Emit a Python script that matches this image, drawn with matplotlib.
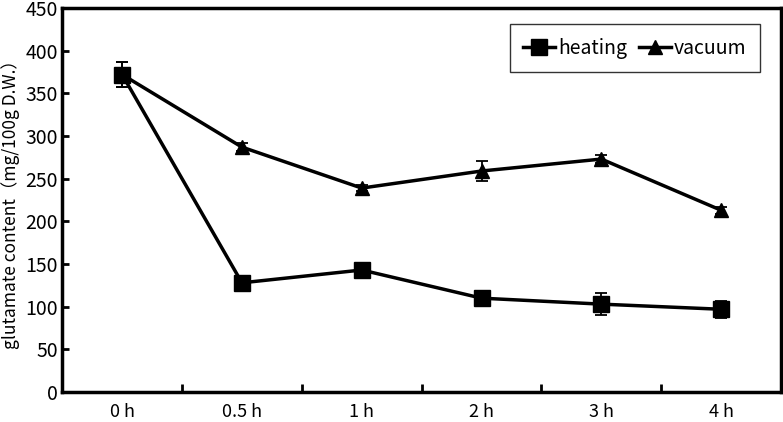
import matplotlib.pyplot as plt
from matplotlib.lines import Line2D

plt.rcParams['font.family'] = ['Noto Sans CJK JP', 'DejaVu Sans']

# data
times = ['0 h', '0.5 h', '1 h', '2 h', '3 h', '4 h']
heating = [372, 128, 143, 110, 103, 97]
heating_err = [15, 3, 3, 3, 13, 10]
vacuum = [372, 287, 239, 259, 273, 213]
vacuum_err = [15, 5, 4, 12, 5, 4]

fig = plt.figure(figsize=(7.83, 4.22), dpi=100)
ax = fig.add_axes([0.0795, 0.071, 0.918, 0.91])

x = list(range(len(times)))
ax.errorbar(x, heating, yerr=heating_err, color='black', lw=2.5, marker='s',
            markersize=11, capsize=4, elinewidth=1.3, capthick=1.3)
ax.errorbar(x, vacuum, yerr=vacuum_err, color='black', lw=2.5, marker='^',
            markersize=10, capsize=4, elinewidth=1.3, capthick=1.3)

ax.set_xlim(-0.5, len(times) - 0.5)
ax.set_ylim(0, 450)
ax.set_yticks(range(0, 451, 50))
ax.set_xticks(x)
ax.set_xticklabels(times)
ax.set_xticks([i + 0.5 for i in x[:-1]], minor=True)
ax.tick_params(axis='x', which='major', length=0, pad=8, labelsize=13)
ax.tick_params(axis='x', which='minor', direction='in', length=6, width=2)
ax.tick_params(axis='y', direction='in', length=5, width=2, labelsize=14, pad=3)
for s in ax.spines.values():
    s.set_linewidth(2.5)

ax.set_ylabel('glutamate content（mg/100g D.W.）', fontsize=12.5, labelpad=4)

handles = [Line2D([], [], color='black', lw=2.5, marker='s', markersize=11),
           Line2D([], [], color='black', lw=2.5, marker='^', markersize=10)]
leg = ax.legend(handles, ['heating', 'vacuum'], loc='upper right',
                bbox_to_anchor=(0.971, 0.958), borderaxespad=0, ncol=2,
                fancybox=False, edgecolor='black', fontsize=14,
                handlelength=1.65, columnspacing=0.6, handletextpad=0.15,
                borderpad=0.7)
leg.get_frame().set_linewidth(1.0)

fig.savefig('out.png', dpi=100)
